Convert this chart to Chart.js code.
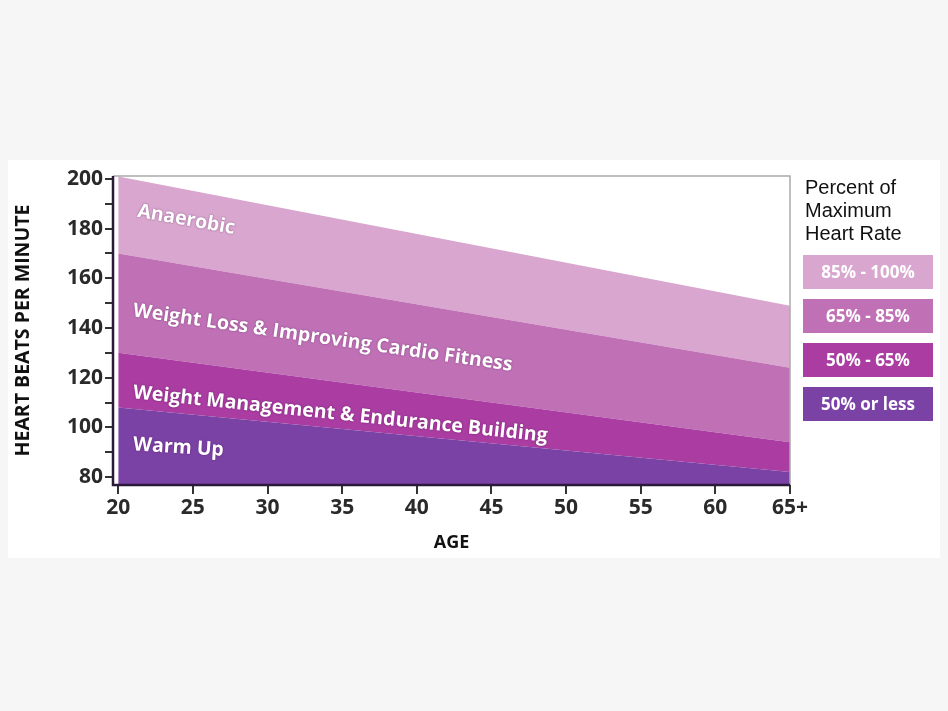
<!DOCTYPE html>
<html><head><meta charset="utf-8">
<script src="https://cdn.jsdelivr.net/npm/chart.js@4"></script>
<style>
body{margin:0;background:#f6f6f6;width:948px;height:711px;overflow:hidden;font-family:"Open Sans",sans-serif}
#panel{position:absolute;left:8px;top:160px;width:932px;height:398px;background:#fff}
#c{position:absolute;left:0;top:0}
#leg{position:absolute;left:795px;top:16px;width:135px}
#leg .t{font-family:"Liberation Sans",Arial,sans-serif;font-size:20px;line-height:23px;color:#111;margin-left:2px}
#leg .b{width:130px;height:34px;margin-top:10px;color:#fff;font-weight:700;font-size:17px;line-height:34px;text-align:center}
</style></head><body>
<div id="panel"><canvas id="c" width="932" height="398"></canvas>
<div id="leg"><div class="t">Percent of<br>Maximum<br>Heart Rate</div></div></div>
<script>
const ages=[20,65];
const ageTicks=[20,25,30,35,40,45,50,55,60,65];
const ageTickLabels=["20","25","30","35","40","45","50","55","60","65+"];
const bpmTicks=[80,90,100,110,120,130,140,150,160,170,180,190,200];
const warmUpTop=[108,82];
const managementTop=[130,94];
const weightLossTop=[170,124];
const anaerobicTop=[201,149];
const zoneNames=["Warm Up","Weight Management & Endurance Building","Weight Loss & Improving Cardio Fitness","Anaerobic"];
const legendLabels=["85% - 100%","65% - 85%","50% - 65%","50% or less"];
const colors=["#7b42a6","#aa3ca2","#c071b6","#d8a6ce"];
const legColors=["#d8a6ce","#c071b6","#aa3ca2","#7b42a6"];
// label anchors [age, bpm, angle deg]
const labelPos=[[21,93,3.5],[21,114,6],[21,147,8.2],[21.3,187,10]];

const leg=document.getElementById('leg');
legendLabels.forEach((l,i)=>{const d=document.createElement('div');d.className='b';d.style.background=legColors[i];d.textContent=l;leg.appendChild(d);});

const series=[warmUpTop,managementTop,weightLossTop,anaerobicTop];
const datasets=series.map((s,i)=>({label:zoneNames[i],data:ages.map((a,j)=>({x:a,y:s[j]})),
  borderWidth:0,pointRadius:0,backgroundColor:colors[i],fill:i===0?'start':'-1',tension:0}));

const deco={id:'deco',
 afterDatasetsDraw(ch){const c=ch.ctx,a=ch.chartArea,xs=ch.scales.x,ys=ch.scales.y;
  c.save();
  c.strokeStyle='#aaa';c.lineWidth=1.5;c.beginPath();c.moveTo(a.left,a.top);c.lineTo(a.right,a.top);c.lineTo(a.right,a.bottom);c.stroke();
  c.strokeStyle='#2a1a3a';c.lineWidth=2.5;c.beginPath();c.moveTo(a.left,a.top);c.lineTo(a.left,a.bottom);c.lineTo(a.right,a.bottom);c.stroke();
  c.fillStyle='#fff';c.font='700 19.5px "Open Sans"';c.textBaseline='middle';
  labelPos.forEach((p,i)=>{c.save();c.translate(xs.getPixelForValue(p[0]),ys.getPixelForValue(p[1]));c.rotate(p[2]*Math.PI/180);
   c.shadowColor='rgba(60,0,60,0.5)';c.shadowBlur=2;c.fillText(zoneNames[i],0,0);c.restore();});
  c.restore();}};

new Chart(document.getElementById('c'),{type:'line',data:{datasets},
 options:{responsive:false,animation:false,
  layout:{padding:{top:16,right:150,left:0,bottom:0}},
  plugins:{legend:{display:false},tooltip:{enabled:false}},
  scales:{
   x:{type:'linear',min:19.65,max:65,
    afterBuildTicks(s){s.ticks=ageTicks.map(v=>({value:v}));},
    afterFit(s){s.height=73;},
    ticks:{callback:(v)=>ageTickLabels[ageTicks.indexOf(v)],color:'#2a2a2a',font:{size:21,weight:'bold',family:'"Open Sans"'},padding:1,maxRotation:0,autoSkip:false},
    grid:{drawOnChartArea:false,tickLength:9,color:'#333',lineWidth:2},border:{display:false},
    title:{display:true,text:'AGE',color:'#111',font:{size:18,weight:'bold',family:'"Open Sans"'},padding:{top:0}}},
   y:{type:'linear',min:76.8,max:201.2,
    afterBuildTicks(s){s.ticks=bpmTicks.map(v=>({value:v}));},
    afterFit(s){s.width=105;},
    ticks:{callback:(v)=>v%20===0?v:'',color:'#2a2a2a',font:{size:21,weight:'bold',family:'"Open Sans"'},padding:2,autoSkip:false},
    grid:{drawOnChartArea:false,tickLength:8,color:'#333',lineWidth:2},border:{display:false},
    title:{display:true,text:'HEART BEATS PER MINUTE',color:'#111',font:{size:19.5,weight:'bold',family:'"Open Sans"'},padding:{bottom:0}}}
  }},plugins:[deco]});
</script></body></html>
